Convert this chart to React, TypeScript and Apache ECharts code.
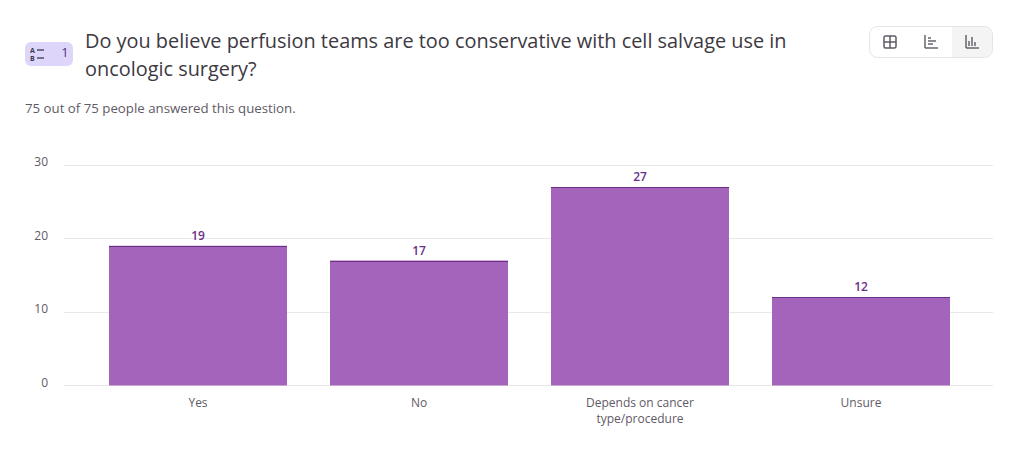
import React, { useEffect, useRef } from "react";
import * as echarts from "echarts";

const categories = ["Yes", "No", "Depends on cancer\ntype/procedure", "Unsure"];
const counts = [19, 17, 27, 12];
const titleLines = [
  "Do you believe perfusion teams are too conservative with cell salvage use in",
  "oncologic surgery?",
];
const subtitle = "75 out of 75 people answered this question.";
const FONT = "'Open Sans', 'Noto Sans', sans-serif";
const INK = "#5f5a66";
const ICON = "#5f5965";

const ln = (x1: number, y1: number, x2: number, y2: number, stroke = ICON, lineWidth = 1.4) => ({
  type: "line",
  shape: { x1, y1, x2, y2 },
  style: { stroke, lineWidth },
  silent: true,
});

export default function App() {
  const ref = useRef<HTMLDivElement>(null);
  useEffect(() => {
    const chart = echarts.init(ref.current!, null, { renderer: "svg" });
    chart.setOption({
      animation: false,
      backgroundColor: "#ffffff",
      textStyle: { fontFamily: FONT },
      grid: [
        { left: 64, right: 17, top: 165, height: 220.5, containLabel: false },
        { left: 87.5, right: 38.5, top: 165, height: 220.5, containLabel: false },
      ],
      xAxis: [
        { gridIndex: 0, type: "category", data: categories, show: false },
        {
          gridIndex: 1,
          type: "category",
          data: categories,
          axisLine: { show: false },
          axisTick: { show: false },
          axisLabel: { color: INK, fontSize: 12, lineHeight: 16, margin: 9, interval: 0, fontFamily: FONT },
        },
      ],
      yAxis: [
        {
          gridIndex: 0,
          type: "value",
          min: 0,
          max: 30,
          interval: 10,
          axisLine: { show: false },
          axisTick: { show: false },
          splitLine: { lineStyle: { color: "#e8e8e8", width: 1 } },
          axisLabel: { color: INK, fontSize: 12, margin: 16, verticalAlign: "bottom", lineHeight: 7, fontFamily: FONT },
        },
        { gridIndex: 1, type: "value", min: 0, max: 30, interval: 10, show: false },
      ],
      series: [
        {
          type: "bar",
          xAxisIndex: 1,
          yAxisIndex: 1,
          data: counts,
          barWidth: 178,
          itemStyle: { color: "#a564bb" },
          label: {
            show: true,
            position: "top",
            distance: 4.5,
            color: "#6b2f87",
            fontSize: 12,
            fontWeight: 600,
            fontFamily: FONT,
          },
          silent: true,
        },
        {
          type: "custom",
          xAxisIndex: 1,
          yAxisIndex: 1,
          data: counts.map((v, i) => [i, v]),
          silent: true,
          z: 5,
          renderItem: (_: any, api: any) => {
            const p = api.coord([api.value(0), api.value(1)]);
            const y = Math.round(p[1]) + 0.5;
            return {
              type: "line",
              shape: { x1: p[0] - 89, y1: y, x2: p[0] + 89, y2: y },
              style: { stroke: "#6b2f87", lineWidth: 1 },
            };
          },
        },
      ],
      graphic: [
        { type: "rect", shape: { x: 25, y: 42, width: 48, height: 24, r: 6 }, style: { fill: "#ddd6fa" }, silent: true },
        { type: "text", x: 30, y: 46.5, style: { text: "A", fontSize: 7, fontWeight: 700, fill: "#3f3848", fontFamily: FONT }, silent: true },
        { type: "text", x: 30, y: 54.5, style: { text: "B", fontSize: 7, fontWeight: 700, fill: "#3f3848", fontFamily: FONT }, silent: true },
        ln(37, 50, 44, 50, "#3f3848", 1.3),
        ln(37, 58, 44, 58, "#3f3848", 1.3),
        { type: "text", x: 61.5, y: 46, style: { text: "1", fontSize: 12, fontWeight: 400, fill: "#4a2a66", fontFamily: FONT }, silent: true },
        { type: "text", x: 85, y: 30, style: { text: titleLines[0], fontSize: 19.9, fill: "#3d3942", fontFamily: FONT }, silent: true },
        { type: "text", x: 85, y: 58, style: { text: titleLines[1], fontSize: 19.9, fill: "#3d3942", fontFamily: FONT }, silent: true },
        { type: "text", x: 25, y: 101, style: { text: subtitle, fontSize: 13.25, fill: INK, fontFamily: FONT }, silent: true },
        // toolbar
        { type: "rect", shape: { x: 952, y: 27, width: 40, height: 30, r: [0, 8, 8, 0] }, style: { fill: "#f4f4f5" }, silent: true },
        { type: "rect", shape: { x: 869.5, y: 26.5, width: 123, height: 31, r: 8 }, style: { fill: "none", stroke: "#e4e4e7", lineWidth: 1 }, silent: true },
        { type: "rect", shape: { x: 884, y: 36, width: 12, height: 12, r: 1.5 }, style: { fill: "none", stroke: ICON, lineWidth: 1.5 }, silent: true },
        ln(890, 36, 890, 48, ICON, 1.5),
        ln(884, 42, 896, 42, ICON, 1.5),
        ln(925, 35, 925, 48),
        ln(925, 48, 938, 48),
        ln(928, 38, 931, 38),
        ln(928, 41, 936, 41),
        ln(928, 44, 933, 44),
        ln(966, 35, 966, 48),
        ln(966, 48, 979, 48),
        ln(969, 41, 969, 46),
        ln(972, 37, 972, 46),
        ln(975, 42, 975, 46),
      ],
    });
    return () => chart.dispose();
  }, []);
  return <div ref={ref} style={{ position: "absolute", left: 0, top: 0, width: 1010, height: 468 }} />;
}
